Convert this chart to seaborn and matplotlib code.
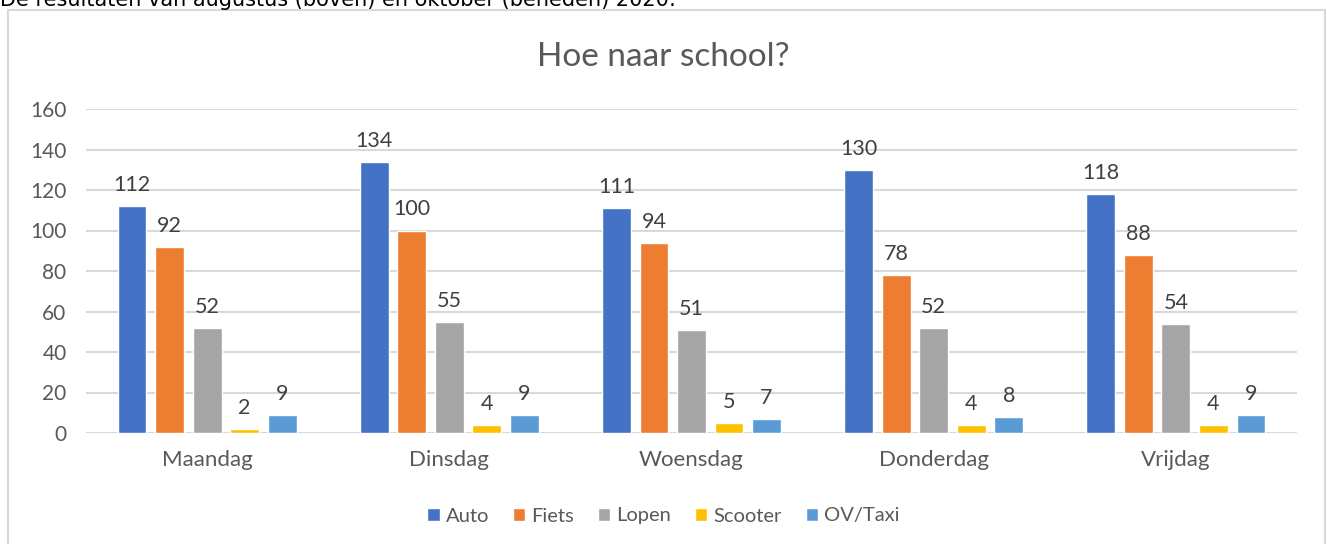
import pandas as pd
import matplotlib
matplotlib.use("Agg")
import matplotlib.pyplot as plt
import seaborn as sns
from matplotlib.patches import Rectangle

days = ["Maandag", "Dinsdag", "Woensdag", "Donderdag", "Vrijdag"]
modes = ["Auto", "Fiets", "Lopen", "Scooter", "OV/Taxi"]
auto = [112, 134, 111, 130, 118]
fiets = [92, 100, 94, 78, 88]
lopen = [52, 55, 51, 52, 54]
scooter = [2, 4, 5, 4, 4]
ov_taxi = [9, 9, 7, 8, 9]
colors = ["#4472C4", "#ED7D31", "#A5A5A5", "#FFC000", "#5B9BD5"]

rows = []
for mode, vals in zip(modes, [auto, fiets, lopen, scooter, ov_taxi]):
    for day, v in zip(days, vals):
        rows.append({"dag": day, "vervoer": mode, "aantal": v})
df = pd.DataFrame(rows)

sns.set_theme(style="white")
plt.rcParams["font.family"] = ["Lato", "DejaVu Sans"]

fig = plt.figure(figsize=(13.27, 5.44), dpi=100)
ax = fig.add_axes([86 / 1327, 1 - 433 / 544, (1297 - 86) / 1327, (433 - 109) / 544])

sns.barplot(data=df, x="dag", y="aantal", hue="vervoer", order=days, hue_order=modes,
            palette=colors, width=0.775, gap=0.23, ax=ax, saturation=1, errorbar=None)

for cont in ax.containers:
    ax.bar_label(cont, padding=8, fontsize=15.5, color="#404040")

ax.set_ylim(0, 160)
ax.set_yticks(range(0, 161, 20))
ax.set_xlim(-0.5, 4.5)
ax.yaxis.grid(True, color="#D9D9D9", linewidth=1.5)
ax.set_axisbelow(True)
sns.despine(ax=ax, left=True, bottom=True)
ax.set_xlabel("")
ax.set_ylabel("")
ax.tick_params(axis="y", length=0, pad=14, labelsize=15, labelcolor="#595959")
ax.tick_params(axis="x", length=0, pad=12, labelsize=16, labelcolor="#595959")

ax.legend(loc="center", bbox_to_anchor=(0.5, 1 - 516 / 544), bbox_transform=fig.transFigure,
          ncol=5, frameon=False, fontsize=14.5, labelcolor="#595959",
          handlelength=0.6, handleheight=0.6, handletextpad=0.3, columnspacing=1.2)

fig.text(0.5, 1 - 57 / 544, "Hoe naar school?", ha="center", va="center",
         fontsize=24, color="#595959")

fig.patches.append(Rectangle((8 / 1327, -0.01), (1325 - 8) / 1327, 1 - 10 / 544 + 0.01,
                             transform=fig.transFigure, fill=False,
                             edgecolor="#D9D9D9", linewidth=1.5))

fig.text(0.0, 1 - 6 / 544, "De resultaten van augustus (boven) en oktober (beneden) 2020:",
         ha="left", va="baseline", fontsize=15, color="black", family="DejaVu Sans")

fig.savefig("out.png", dpi=100)
